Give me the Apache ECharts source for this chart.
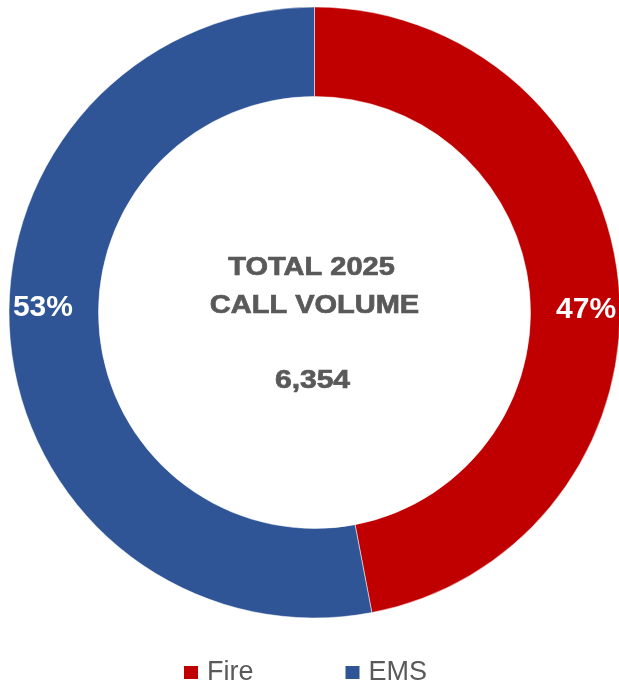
<!DOCTYPE html>
<html>
<head>
<meta charset="utf-8">
<script src="https://cdn.jsdelivr.net/npm/echarts@6/dist/echarts.min.js"></script>
<style>
  html, body { margin: 0; padding: 0; background: #fff; }
  #calls { width: 619px; height: 690px; }
</style>
</head>
<body>
<div id="calls"></div>
<script>
// call types and their 2025 counts
var categories = ['Fire', 'EMS'];
var callCounts = [2986, 3368];
var colors = ['#C00000', '#2F5597'];
var centerLines = ['TOTAL 2025', 'CALL VOLUME', '6,354'];

var labelOffsets = [[9, 22], [-9, -30]];

var mychart = echarts.init(document.getElementById('calls'));

var pieData = [];
for (var i = 0; i < categories.length; i++) {
    pieData.push({
        name: categories[i],
        value: callCounts[i],
        itemStyle: { color: colors[i] },
        label: { offset: labelOffsets[i] }
    });
}

function centerText(txt, x, y, sx) {
    return {
        type: 'text', x: x, y: y, scaleX: sx,
        style: {
            text: txt,
            fill: '#595959',
            stroke: '#595959',
            lineWidth: 0.7,
            fontSize: 25,
            fontWeight: 'bold',
            fontFamily: '"Liberation Sans", Arial, sans-serif',
            textAlign: 'center',
            textVerticalAlign: 'middle'
        }
    };
}

mychart.setOption({
    animation: false,
    legend: {
        data: categories,
        left: 182,
        top: 659,
        padding: 0,
        icon: 'rect',
        itemWidth: 16,
        itemHeight: 15,
        itemGap: 90,
        textStyle: {
            color: '#595959',
            fontSize: 27,
            fontFamily: '"Liberation Sans", Arial, sans-serif',
            padding: [0, 0, 0, 3]
        }
    },
    graphic: [
        centerText(centerLines[0], 311.5, 268, 1.16),
        centerText(centerLines[1], 314.5, 306, 1.16),
        centerText(centerLines[2], 312.5, 381, 1.2)
    ],
    series: [{
        name: 'Calls',
        type: 'pie',
        center: [314.5, 312.5],
        radius: [216, 305.5],
        startAngle: 90,
        clockwise: true,
        avoidLabelOverlap: false,
        itemStyle: { borderColor: '#ffffff', borderWidth: 0.5 },
        label: {
            show: true,
            position: 'inside',
            formatter: function (p) { return Math.round(p.percent) + '%'; },
            color: '#ffffff',
            fontSize: 30,
            fontWeight: 'bold',
            fontFamily: '"Liberation Sans", Arial, sans-serif'
        },
        labelLine: { show: false },
        emphasis: { disabled: true },
        data: pieData
    }]
});
</script>
</body>
</html>
